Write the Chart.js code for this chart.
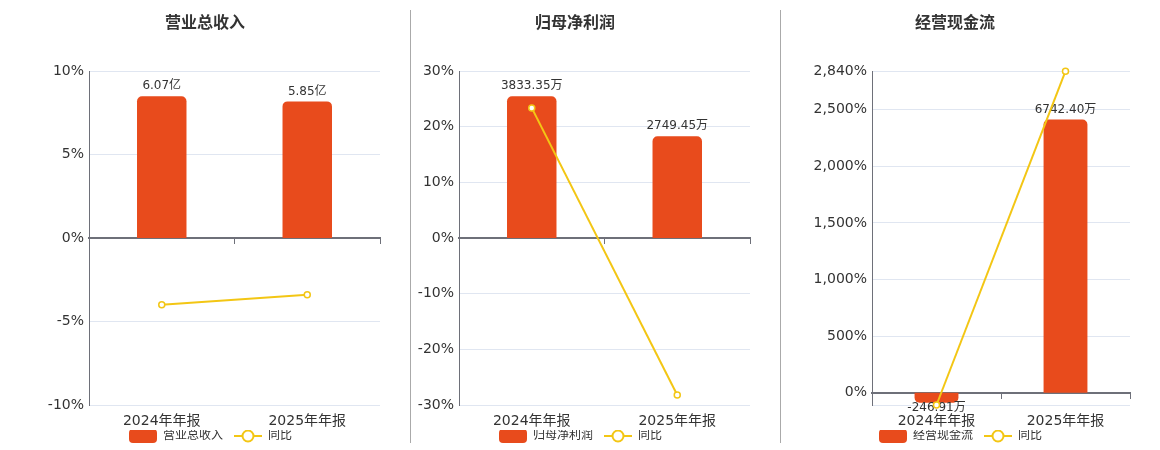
<!DOCTYPE html>
<html>
<head>
<meta charset="utf-8">
<script src="https://cdn.jsdelivr.net/npm/chart.js@4.4.1/dist/chart.umd.min.js"></script>
<style>
  body { margin: 0; background: #fff; }
  #wrap { position: relative; width: 1160px; height: 450px; }
  .panel { position: absolute; top: 0; width: 360px; height: 450px; }
  .sep { position: absolute; top: 10px; width: 1px; height: 433px; background: #aaa; }
</style>
</head>
<body>
<div id="wrap">
  <div class="panel" style="left:30px"><canvas id="c1" width="360" height="450"></canvas></div>
  <div class="sep" style="left:410px"></div>
  <div class="panel" style="left:400px"><canvas id="c2" width="360" height="450"></canvas></div>
  <div class="sep" style="left:780px"></div>
  <div class="panel" style="left:780px"><canvas id="c3" width="360" height="450"></canvas></div>
</div>
<script>
// 数据
const categories = ['2024年年报', '2025年年报'];

const revenueValues = [6.07, 5.85];        // 营业总收入（亿）
const revenueYoy = [-4.0, -3.4];           // 同比 %
const revenueTicks = [-10, -5, 0, 5, 10];

const profitValues = [3833.35, 2749.45];   // 归母净利润（万）
const profitYoy = [23.4, -28.2];
const profitTicks = [-30, -20, -10, 0, 10, 20, 30];

const cashValues = [-246.91, 6742.40];     // 经营现金流（万）
const cashYoy = [-109, 2840];
const cashTicks = [0, 500, 1000, 1500, 2000, 2500, 2840];

const barColor = '#E84B1C';
const lineColor = '#F3C614';
const axisColor = '#6E7079';
const gridColor = '#E0E6F1';
const textColor = '#333';
const fontFamily = '"DejaVu Sans", "Noto Sans CJK SC", sans-serif';

// 图例图标（左边留 11px 空白当作图例项间距）
const ICON_GAP = 11;
function barIcon() {
    const c = document.createElement('canvas');
    c.width = 28 + ICON_GAP; c.height = 14;
    const g = c.getContext('2d');
    g.fillStyle = barColor;
    g.beginPath();
    g.roundRect(ICON_GAP, 0, 28, 14, 4);
    g.fill();
    return c;
}
function lineIcon() {
    const c = document.createElement('canvas');
    c.width = 28 + ICON_GAP; c.height = 14;
    const g = c.getContext('2d');
    g.strokeStyle = lineColor;
    g.lineWidth = 2;
    g.beginPath();
    g.moveTo(ICON_GAP, 7); g.lineTo(ICON_GAP + 28, 7);
    g.stroke();
    g.fillStyle = '#fff';
    g.beginPath();
    g.arc(ICON_GAP + 14, 7, 5.5, 0, Math.PI * 2);
    g.fill();
    g.stroke();
    return c;
}

// 柱子上方的数值
const barLabels = {
    id: 'barLabels',
    afterDatasetDraw(chart, args, opts) {
        if (args.index !== 0) return;
        const ctx = chart.ctx;
        ctx.save();
        ctx.font = '12px ' + fontFamily;
        ctx.fillStyle = textColor;
        ctx.textAlign = 'center';
        args.meta.data.forEach((bar, i) => {
            const v = chart.data.datasets[0].data[i];
            const text = opts.format(v);
            if (v >= 0) {
                ctx.textBaseline = 'bottom';
                ctx.fillText(text, bar.x, bar.y - 4);
            } else {
                ctx.textBaseline = 'top';
                ctx.fillText(text, bar.x, bar.y - 1);
            }
        });
        ctx.restore();
    }
};

function makeChart(id, title, barName, bars, yoy, ticks, format, axisWidth) {
    const yMin = Math.min(ticks[0], ...yoy);
    const yMax = Math.max(ticks[ticks.length - 1], ...yoy);
    // 柱子用隐藏的第二轴，最高柱占正半轴的 85%
    const barMax = Math.max(...bars) / 0.85;
    const barMin = barMax * yMin / yMax;

    return new Chart(document.getElementById(id), {
        type: 'bar',
        data: {
            labels: categories,
            datasets: [
                {
                    type: 'bar',
                    label: barName,
                    data: bars,
                    yAxisID: 'yb',
                    backgroundColor: barColor,
                    borderRadius: 5,
                    borderSkipped: 'start',
                    barPercentage: 0.34,
                    categoryPercentage: 1,
                    order: 1,
                },
                {
                    type: 'line',
                    label: '同比',
                    data: yoy,
                    yAxisID: 'y',
                    borderColor: lineColor,
                    borderWidth: 2,
                    pointRadius: 3,
                    pointBackgroundColor: '#fff',
                    pointBorderColor: lineColor,
                    pointBorderWidth: 1.5,
                    clip: false,
                    order: 0,
                },
            ],
        },
        options: {
            responsive: false,
            animation: false,
            layout: { padding: { left: 0, right: 10, bottom: -2 } },
            scales: {
                x: {
                    afterFit(scale) { scale.height = 25; },
                    grid: { display: false, drawTicks: false },
                    border: { display: false },
                    ticks: { color: textColor, font: { size: 14, family: fontFamily }, padding: 8 },
                },
                x2: {
                    type: 'category',
                    axis: 'x',
                    labels: categories,
                    offset: true,
                    position: { y: 0 },
                    grid: { offset: true, drawOnChartArea: false, drawTicks: true, tickLength: 5, color: axisColor },
                    border: { display: true, color: axisColor, width: 2 },
                    ticks: { display: false },
                },
                y: {
                    min: yMin,
                    max: yMax,
                    afterBuildTicks(scale) {
                        const list = ticks.slice();
                        if (yMin < ticks[0]) list.unshift(yMin);
                        scale.ticks = list.map(v => ({ value: v }));
                    },
                    afterFit(scale) { scale.width = axisWidth; },
                    grid: {
                        drawTicks: false,
                        color: (c) => c.tick && c.tick.value === 0 ? axisColor : gridColor,
                    },
                    border: { display: true, color: axisColor, width: 1 },
                    ticks: {
                        color: textColor,
                        font: { size: 14, family: fontFamily },
                        padding: 5,
                        callback: (v) => ticks.includes(v) ? v.toLocaleString('en-US') + '%' : '',
                    },
                },
                yb: {
                    display: false,
                    min: barMin,
                    max: barMax,
                },
            },
            plugins: {
                title: {
                    display: true,
                    text: title,
                    color: textColor,
                    font: { size: 16, weight: 'bold', family: fontFamily },
                    padding: { top: 14, bottom: 38 },
                },
                legend: {
                    position: 'bottom',
                    labels: {
                        usePointStyle: true,
                        pointStyleWidth: 28 + ICON_GAP,
                        padding: 0,
                        color: textColor,
                        font: { size: 12, family: fontFamily },
                        generateLabels: () => [
                            { text: barName, pointStyle: barIcon(), datasetIndex: 0, fontColor: textColor, lineWidth: 0 },
                            { text: '同比', pointStyle: lineIcon(), datasetIndex: 1, fontColor: textColor, lineWidth: 0 },
                        ],
                    },
                },
                tooltip: { enabled: false },
                barLabels: { format },
            },
        },
        plugins: [barLabels],
    });
}

makeChart('c1', '营业总收入', '营业总收入', revenueValues, revenueYoy, revenueTicks,
    v => v.toFixed(2) + '亿', 59);
makeChart('c2', '归母净利润', '归母净利润', profitValues, profitYoy, profitTicks,
    v => v.toFixed(2) + '万', 59);
makeChart('c3', '经营现金流', '经营现金流', cashValues, cashYoy, cashTicks,
    v => v.toFixed(2) + '万', 92);
</script>
</body>
</html>
